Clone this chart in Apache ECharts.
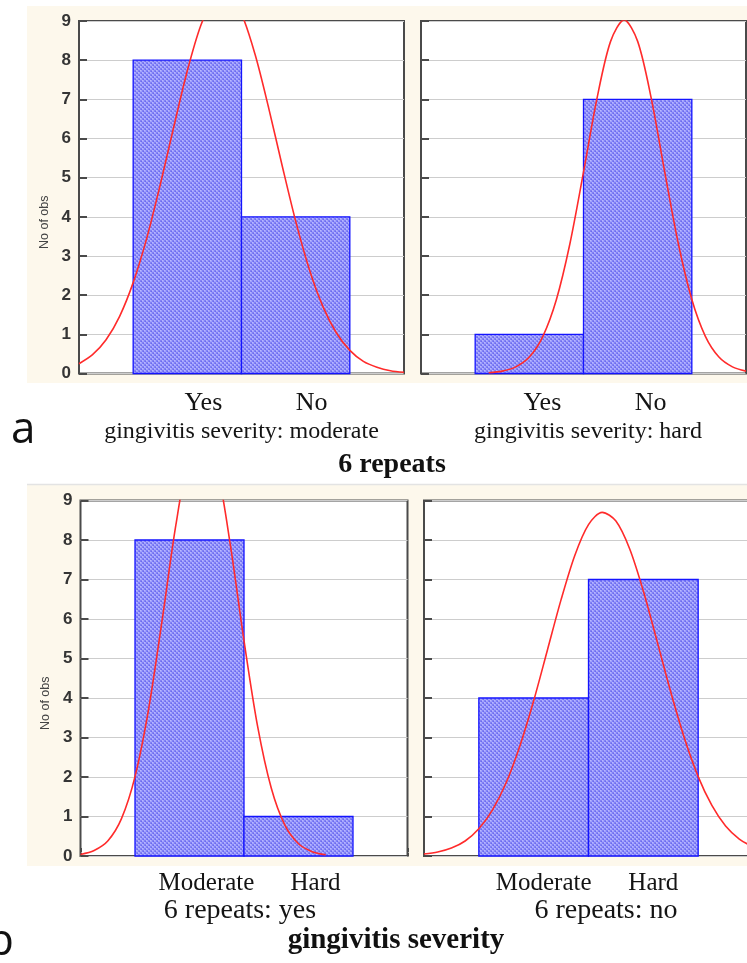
<!DOCTYPE html>
<html>
<head>
<meta charset="utf-8">
<script src="https://cdn.jsdelivr.net/npm/echarts@6/dist/echarts.min.js"></script>
<style>
  html, body { margin: 0; padding: 0; background: #ffffff; }
  #chart { width: 747px; height: 963px; }
</style>
</head>
<body>
<div id="chart"></div>
<script>
// ---- data -------------------------------------------------------------
const catsRepeats = ['Yes', 'No'];
const catsSeverity = ['Moderate', 'Hard'];

// observation counts per panel
const countsModerate = [8, 4];     // severity moderate: 6 repeats yes / no
const countsHard = [1, 7];         // severity hard: 6 repeats yes / no
const countsRepeatYes = [8, 1];    // 6 repeats yes: moderate / hard
const countsRepeatNo = [4, 7];     // 6 repeats no: moderate / hard

const panelTitles = [
  'gingivitis severity: moderate',
  'gingivitis severity: hard',
  '6 repeats: yes',
  '6 repeats: no'
];
const groupTitles = ['6 repeats', 'gingivitis severity'];
const panelLetters = ['a', 'b'];
const yAxisTitle = 'No of obs';

// fitted normal curves (expected counts), sampled along the category axis
const curveX = [0, 0.125, 0.25, 0.375, 0.5, 0.625, 0.75, 0.875, 1, 1.125, 1.25, 1.375,
  1.5, 1.625, 1.75, 1.875, 2, 2.125, 2.25, 2.375, 2.5, 2.625, 2.75, 2.875, 3];
const fitModerate = [0.25, 0.48, 0.86, 1.46, 2.32, 3.45, 4.82, 6.30, 7.73, 8.89, 9.58, 9.68,
  9.18, 8.15, 6.79, 5.31, 3.89, 2.67, 1.72, 1.04, 0.59, 0.31, 0.16, 0.07, 0.03];
const fitHard = [null, null, null, null, null, 0.02, 0.06, 0.17, 0.42, 0.95, 1.89, 3.32,
  5.14, 7.03, 8.48, 9.03, 8.48, 7.03, 5.14, 3.32, 1.89, 0.95, 0.42, 0.17, 0.06];
const fitRepeatYes = [0.04, 0.14, 0.38, 0.94, 2.01, 3.72, 5.99, 8.38, 10.19, 10.76, 9.87, 7.87,
  5.45, 3.28, 1.72, 0.78, 0.31, 0.11, 0.03, null, null, null, null, null, null];
const fitRepeatNo = [0.05, 0.10, 0.20, 0.38, 0.69, 1.17, 1.86, 2.79, 3.93, 5.21, 6.49, 7.61,
  8.39, 8.70, 8.48, 7.78, 6.71, 5.44, 4.15, 2.98, 2.01, 1.28, 0.76, 0.43, 0.23];

// ---- layout -------------------------------------------------------------
const panels = [
  { grid: { left: 79, top: 21, width: 325, height: 352.5 }, cats: catsRepeats, counts: countsModerate,
    fit: fitModerate, title: panelTitles[0], showY: true,
    labelSize: 26, labelMargin: 16.5, labelPad: [0, 0, 0, 32],
    nameSize: 24, nameGap: 46.5, namePad: [0, 0, 0, 0] },
  { grid: { left: 421, top: 21, width: 325, height: 352.5 }, cats: catsRepeats, counts: countsHard,
    fit: fitHard, title: panelTitles[1], showY: false,
    labelSize: 26, labelMargin: 16.5, labelPad: [0, 0, 0, 26],
    nameSize: 24, nameGap: 46.5, namePad: [0, 0, 0, 9] },
  { grid: { left: 80.5, top: 500.5, width: 327, height: 355.5 }, cats: catsSeverity, counts: countsRepeatYes,
    fit: fitRepeatYes, title: panelTitles[2], showY: true,
    labelSize: 25, labelMargin: 15, labelPad: [0, 0, 0, 34],
    nameSize: 28, nameGap: 33, namePad: [0, 8, 0, 0] },
  { grid: { left: 424, top: 500.5, width: 329, height: 355.5 }, cats: catsSeverity, counts: countsRepeatNo,
    fit: fitRepeatNo, title: panelTitles[3], showY: false,
    labelSize: 25, labelMargin: 15, labelPad: [0, 0, 0, 20],
    nameSize: 28, nameGap: 33, namePad: [0, 0, 0, 35] }
];

const SERIF = '"Liberation Serif", "Times New Roman", serif';
const SANS = '"Liberation Sans", Arial, sans-serif';
const FRAME = '#4a4a4a';

// fine blue checker-hatch used for the histogram bars
function hatchPattern() {
  const c = document.createElement('canvas');
  c.width = 4; c.height = 4;
  const g = c.getContext('2d');
  g.fillStyle = '#a2a2fd'; g.fillRect(0, 0, 4, 4);
  g.fillStyle = '#8080f4';
  g.fillRect(0, 0, 2, 2); g.fillRect(2, 2, 2, 2);
  g.fillStyle = '#6a6af0';
  g.fillRect(1, 1, 1, 1); g.fillRect(3, 3, 1, 1);
  g.fillStyle = '#b8b8ff';
  g.fillRect(2, 0, 1, 1); g.fillRect(0, 2, 1, 1);
  return c;
}
const barFill = { image: hatchPattern(), repeat: 'repeat' };

// tick-only axis: shifted into the frame so its outward ticks end on the border
function tickAxis(kind, gridIndex, position, max, len) {
  return {
    gridIndex, type: 'value', position, min: 0, max, interval: 1, offset: -len,
    axisLine: { show: false },
    axisTick: { show: true, length: len, lineStyle: { color: FRAME, width: 2 } },
    axisLabel: { show: false }, splitLine: { show: false }, silent: true
  };
}

const grids = [], xAxes = [], yAxes = [], series = [];

panels.forEach((p, i) => {
  grids.push(Object.assign({
    show: true, backgroundColor: '#ffffff', borderColor: FRAME, borderWidth: 2,
    containLabel: false, outerBoundsMode: 'none'
  }, p.grid));

  const cats = p.cats;
  const xi = xAxes.length, yi = yAxes.length;
  // bottom category axis (labels + panel title)
  xAxes.push({
    gridIndex: i, type: 'value', position: 'bottom', min: 0, max: 3, interval: 1,
    axisLine: { show: false }, axisTick: { show: false }, splitLine: { show: false },
    axisLabel: {
      show: true, margin: p.labelMargin, fontFamily: SERIF, fontSize: p.labelSize, color: '#141414',
      padding: p.labelPad, verticalAlign: 'top',
      showMinLabel: true, showMaxLabel: true,
      formatter: v => (v >= 1 && v <= cats.length && Number.isInteger(v)) ? cats[v - 1] : ''
    },
    name: p.title, nameLocation: 'middle', nameGap: p.nameGap,
    nameTextStyle: { fontFamily: SERIF, fontSize: p.nameSize, color: '#141414', padding: p.namePad, verticalAlign: 'top' }
  });
  xAxes.push(tickAxis('x', i, 'bottom', 3, 3));
  xAxes.push(tickAxis('x', i, 'top', 3, 4));

  // left value axis (labels, grid lines)
  yAxes.push({
    gridIndex: i, type: 'value', position: 'left', min: 0, max: 9, interval: 1,
    axisLine: { show: false }, axisTick: { show: false },
    splitLine: { show: true, lineStyle: { color: '#cdcdcd', width: 1 } },
    axisLabel: { show: p.showY, margin: 8, fontFamily: SANS, fontWeight: 'bold', fontSize: 17, color: '#353535' },
    name: p.showY ? yAxisTitle : '', nameLocation: 'middle', nameGap: 28,
    nameTextStyle: { fontFamily: SANS, fontSize: 12.5, color: '#444444', padding: [0, 50, 0, 0] }
  });
  yAxes.push(tickAxis('y', i, 'left', 9, 4));
  yAxes.push(tickAxis('y', i, 'right', 9, 4));

  // histogram bars: one unit wide, centred on each category
  series.push({
    type: 'custom', xAxisIndex: xi, yAxisIndex: yi, z: 2,
    data: p.counts.map((v, k) => [k + 1, v]),
    renderItem: (params, api) => {
      const x = api.value(0), y = api.value(1);
      const a = api.coord([x - 0.5, y]);
      const b = api.coord([x + 0.5, 0]);
      return {
        type: 'rect',
        shape: { x: a[0], y: a[1], width: b[0] - a[0], height: b[1] - a[1] },
        style: { fill: barFill, stroke: '#1414ff', lineWidth: 1.3 }
      };
    }
  });

  // fitted normal curve
  series.push({
    type: 'line', xAxisIndex: xi, yAxisIndex: yi, z: 3,
    data: curveX.map((x, k) => [x, p.fit[k]]),
    showSymbol: false, smooth: 0.3, clip: true, connectNulls: false,
    lineStyle: { color: '#ff2b2b', width: 1.6 },
    silent: true
  });
});

const chart = echarts.init(document.getElementById('chart'), null, { renderer: 'canvas' });
chart.setOption({
  animation: false,
  backgroundColor: '#ffffff',
  grid: grids,
  xAxis: xAxes,
  yAxis: yAxes,
  series: series,
  graphic: [
    // panel backgrounds
    { type: 'rect', z: -100, shape: { x: 27, y: 6, width: 722, height: 377 }, style: { fill: '#fdf8ec' } },
    { type: 'rect', z: -100, shape: { x: 27, y: 485, width: 722, height: 381 }, style: { fill: '#fdf8ec' } },
    { type: 'line', z: -99, shape: { x1: 27, y1: 484.5, x2: 747, y2: 484.5 }, style: { stroke: '#e3e3e3', lineWidth: 1.5 } },
    // group titles
    { type: 'text', z: 10, x: 392, y: 464.5,
      style: { text: groupTitles[0], font: 'bold 28px ' + SERIF, fill: '#111111', align: 'center', verticalAlign: 'middle' } },
    { type: 'text', z: 10, x: 396, y: 941,
      style: { text: groupTitles[1], font: 'bold 29px ' + SERIF, fill: '#111111', align: 'center', verticalAlign: 'middle' } },
    // panel letters
    { type: 'text', z: 10, x: 11, y: 430,
      style: { text: panelLetters[0], font: '44px "Open Sans", "DejaVu Sans", sans-serif', fill: '#111111', align: 'left', verticalAlign: 'middle' } },
    { type: 'text', z: 10, x: -13, y: 942,
      style: { text: panelLetters[1], font: '44px "Open Sans", "DejaVu Sans", sans-serif', fill: '#111111', align: 'left', verticalAlign: 'middle' } }
  ]
});
</script>
</body>
</html>
